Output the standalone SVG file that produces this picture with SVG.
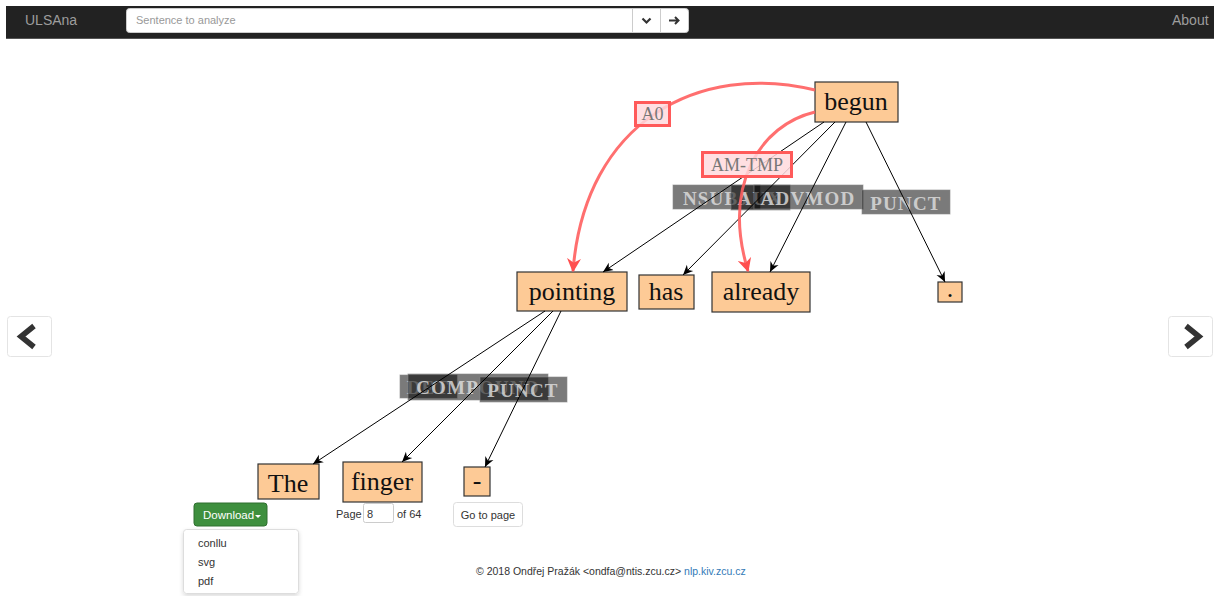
<svg xmlns="http://www.w3.org/2000/svg" width="1214" height="596" viewBox="0 0 1214 596">
<defs>
<style>
.node rect{fill:#fdca96;stroke:#333;stroke-width:1.2}
.node text{font-family:"Liberation Serif","DejaVu Serif",serif;font-size:26px;fill:#111;text-anchor:middle}
.dep rect{fill:#000;fill-opacity:0.52;stroke:#888;stroke-opacity:0.6}
.dep text{font-family:"Liberation Serif","DejaVu Serif",serif;font-size:19px;font-weight:bold;fill:#e2e2e2;fill-opacity:0.8;text-anchor:middle;letter-spacing:1.2px}
.srl rect{fill:#ffd9dd;fill-opacity:0.85;stroke:#ff5a5a;stroke-width:3}
.srl text{font-family:"Liberation Serif","DejaVu Serif",serif;font-size:18px;fill:#777;text-anchor:middle}
.edge{stroke:#000;stroke-width:1;fill:none;marker-end:url(#ah)}
.arc{stroke:#ff5f5f;stroke-opacity:0.9;stroke-width:3;fill:none;marker-end:url(#rh)}
.ui{font-family:"Liberation Sans",Arial,sans-serif;font-size:11px}
</style>
<filter id="sh" x="-10%" y="-10%" width="120%" height="130%">
<feDropShadow dx="0" dy="2" stdDeviation="2" flood-color="#000" flood-opacity="0.15"/>
</filter>
<marker id="ah" viewBox="0 0 10 10" refX="10" refY="5" markerWidth="10" markerHeight="10" markerUnits="userSpaceOnUse" orient="auto">
<path d="M0,0.5 L10,5 L0,9.5 L3,5 z" fill="#000"/>
</marker>
<marker id="rh" viewBox="0 0 10 10" refX="9" refY="5" markerWidth="14" markerHeight="14" markerUnits="userSpaceOnUse" orient="auto">
<path d="M0,0 L10,5 L0,10 L3,5 z" fill="#ff4f4f"/>
</marker>
</defs>
<rect width="1214" height="596" fill="#fff"/>
<g id="navbar">
<rect x="6" y="6" width="1208" height="32" fill="#222"/>
<rect x="6" y="38" width="1208" height="1" fill="#555"/>
<text x="25" y="25" class="ui" fill="#9d9d9d" style="font-size:14px">ULSAna</text>
<rect x="126.5" y="8.5" width="562" height="24" rx="3" fill="#fff" stroke="#ccc"/>
<line x1="632.5" y1="8.5" x2="632.5" y2="32.5" stroke="#ccc"/>
<line x1="660.5" y1="8.5" x2="660.5" y2="32.5" stroke="#ccc"/>
<text x="136" y="24" class="ui" fill="#999" style="font-size:11px">Sentence to analyze</text>
<path d="M642.5,18.5 L646.5,22.5 L650.5,18.5" stroke="#333" stroke-width="2.2" fill="none"/>
<path d="M669,20.5 H678 M675,17 L678.5,20.5 L675,24" stroke="#333" stroke-width="2" fill="none"/>
<text x="1172" y="25" class="ui" fill="#9d9d9d" style="font-size:14px">About</text>
</g>
<g id="nav-prev">
<rect x="7.5" y="316.5" width="44" height="40" rx="3" fill="#fff" stroke="#e4e4e4"/>
<path d="M34,326 L21,336.5 L34,347" stroke="#333" stroke-width="5.5" fill="none"/>
</g>
<g id="nav-next">
<rect x="1168.5" y="316.5" width="44" height="40" rx="3" fill="#fff" stroke="#e4e4e4"/>
<path d="M1186,326 L1199,336.5 L1186,347" stroke="#333" stroke-width="5.5" fill="none"/>
</g>
<g id="node-begun" class="node"><rect x="815" y="82" width="83" height="40"/><text x="856" y="110">begun</text></g>
<g id="node-pointing" class="node"><rect x="517" y="272" width="110" height="39"/><text x="572" y="300">pointing</text></g>
<g id="node-has" class="node"><rect x="639" y="275" width="55" height="34"/><text x="666" y="300">has</text></g>
<g id="node-already" class="node"><rect x="712" y="272" width="98" height="40"/><text x="761" y="300">already</text></g>
<g id="node-dot" class="node"><rect x="938" y="282" width="24" height="20"/><text x="950" y="297">.</text></g>
<g id="node-the" class="node"><rect x="258" y="464" width="61" height="35"/><text x="288" y="492">The</text></g>
<g id="node-finger" class="node"><rect x="343" y="462" width="79" height="40"/><text x="382" y="490">finger</text></g>
<g id="node-dash" class="node"><rect x="464" y="467" width="26" height="29"/><text x="477" y="489">-</text></g>
<g id="connectors">
<g class="dep"><rect x="673" y="185" width="87" height="24"/><text x="716" y="205">NSUBJ</text></g>
<g class="dep"><rect x="731" y="185" width="59" height="25"/><text x="760" y="205">AUX</text></g>
<g class="dep"><rect x="754" y="185" width="109" height="24"/><text x="808" y="205">ADVMOD</text></g>
<g class="dep"><rect x="862" y="190" width="88" height="24"/><text x="906" y="210">PUNCT</text></g>
<g class="dep"><rect x="400" y="375" width="57" height="23"/><text x="428" y="394">DET</text></g>
<g class="dep"><rect x="408" y="374" width="140" height="26"/><text x="478" y="394">COMPOUND</text></g>
<g class="dep"><rect x="480" y="377" width="87" height="25"/><text x="523" y="397">PUNCT</text></g>
<line class="edge" x1="824" y1="122" x2="603" y2="272"/>
<line class="edge" x1="835" y1="122" x2="683" y2="275"/>
<line class="edge" x1="846" y1="122" x2="770" y2="272"/>
<line class="edge" x1="866" y1="122" x2="945" y2="282"/>
<line class="edge" x1="545" y1="311" x2="313" y2="464"/>
<line class="edge" x1="553" y1="311" x2="402" y2="462"/>
<line class="edge" x1="561" y1="311" x2="485" y2="467"/>
<path class="arc" d="M815,90 C700,62 585,120 573,271"/>
<path class="arc" d="M815,112 C760,125 722,185 748,271"/>
<g class="srl"><rect x="635.5" y="102.5" width="34" height="23"/><text x="652.5" y="120">A0</text></g>
<g class="srl"><rect x="702.5" y="152.5" width="89" height="24"/><text x="747" y="171">AM-TMP</text></g>
</g>
<g id="controls">
<rect x="194" y="503" width="73" height="23" rx="3" fill="#3e8f3e" stroke="#2f6f2f"/>
<text x="203" y="519" class="ui" fill="#fff" style="font-size:11.5px">Download</text>
<path d="M255,515 L261,515 L258,518 z" fill="#fff"/>
<rect x="183.5" y="529.5" width="115" height="64" rx="3" fill="#fff" stroke="#ddd" filter="url(#sh)"/>
<text x="198" y="547" class="ui" fill="#333">conllu</text>
<text x="198" y="566" class="ui" fill="#333">svg</text>
<text x="198" y="585" class="ui" fill="#333">pdf</text>
<text x="336" y="518" class="ui" fill="#333">Page</text>
<rect x="363.5" y="503.5" width="30" height="19" rx="2" fill="#fff" stroke="#ccc"/>
<text x="367" y="518" class="ui" fill="#333">8</text>
<text x="397" y="518" class="ui" fill="#333">of 64</text>
<rect x="453.5" y="502.5" width="69" height="24" rx="3" fill="#fff" stroke="#ddd"/>
<text x="488" y="519" class="ui" fill="#333" text-anchor="middle">Go to page</text>
</g>
<g id="footer">
<text x="476" y="575" class="ui" fill="#333" style="font-size:10.5px">© 2018 Ondřej Pražák &lt;ondfa@ntis.zcu.cz&gt; <tspan fill="#337ab7">nlp.kiv.zcu.cz</tspan></text>
</g>
</svg>
